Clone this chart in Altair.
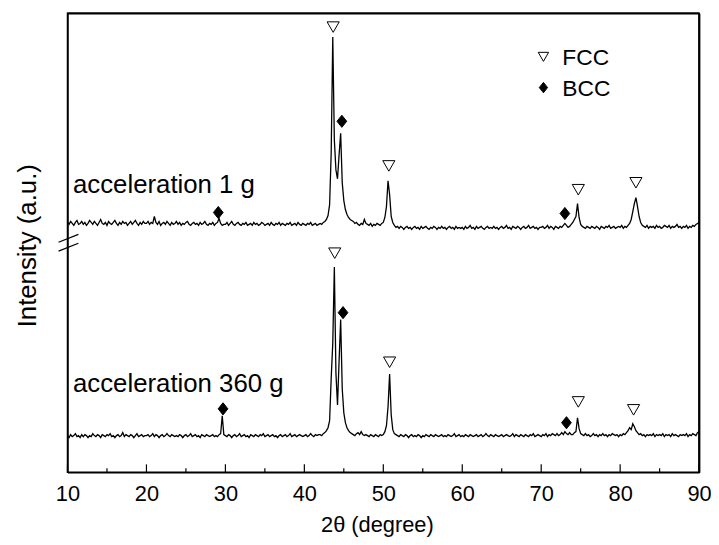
import altair as alt
import numpy as np
import pandas as pd

# ---------------- data ----------------
# 2-theta grid: 10.0 ... 90.0, step 0.2 degree
theta_start, theta_step, n_pts = 10.0, 0.2, 401

# sample "acceleration 1 g" (upper pattern), intensity in a.u.
u10 = [252,250,253,251,249,252,254,250,251,253, 250,252,249,251,254,252,250,253,251,249,
       252,255,251,250,252,249,253,251,250,252, 254,251,249,252,250,253,251,252,249,251,
       253,250,252,254,251,249,252,250,253,251]
u20 = [251,253,250,252,251,258,252,250,253,249, 251,252,250,253,251,249,252,250,251,253,
       250,252,249,251,250,252,253,250,249,251, 252,250,251,249,252,250,251,253,250,249,
       251,250,252,249,251,252,256,251,249,250]
u30 = [250,252,249,251,253,250,249,251,252,250, 249,251,250,252,249,250,251,249,252,250,
       251,249,250,252,251,249,250,251,249,252, 250,249,251,250,252,249,251,250,249,251,
       250,252,249,250,251,249,252,250,249,251]
u40 = [250,249,251,250,252,249,250,251,249,250, 251,250,252,253,255,259,270,322,439,335,
       305,296,320,342,292,274,265,260,257,255, 254,253,251,252,250,249,251,250,255,251,
       250,249,251,248,250,249,251,250,249,251]
u50 = [252,257,268,294,280,258,252,249,247,248, 246,248,247,245,247,248,246,247,245,247,
       248,246,247,245,248,246,247,248,246,245, 247,246,248,247,245,247,246,248,246,247,
       245,247,248,246,247,245,248,246,247,246]
u60 = [247,245,248,246,247,249,246,247,245,248, 246,247,248,246,245,247,248,246,247,246,
       248,246,247,245,247,248,246,247,249,246, 247,245,248,247,246,248,247,245,247,248,
       246,247,249,246,247,248,246,247,245,247]
u70 = [247,248,246,247,249,246,248,247,245,248, 247,246,248,247,249,251,249,247,248,250,
       252,255,258,271,257,250,248,247,246,248, 247,246,248,247,246,248,247,245,248,247,
       246,248,247,249,246,247,248,246,247,248]
u80 = [247,249,246,248,247,249,251,255,263,271, 277,268,258,252,249,248,247,249,246,248,
       247,248,246,249,247,248,246,247,249,248, 247,249,246,248,247,248,250,247,248,246,
       248,247,249,246,248,247,249,248,250,251]
u90 = [252]

# sample "acceleration 360 g" (lower pattern)
l10 = [37,35,38,36,37,39,36,37,35,38, 36,38,37,35,37,36,39,37,36,38,
       37,35,38,37,36,38,37,39,36,37, 35,37,38,36,37,40,36,38,37,36,
       38,37,35,37,39,36,37,38,36,37]
l20 = [37,38,36,37,39,36,38,37,35,37, 38,36,37,39,37,36,38,37,36,37,
       36,38,37,35,37,38,36,37,39,36, 37,38,36,37,35,38,37,36,38,37,
       36,37,38,36,37,36,38,39,57,38]
l30 = [37,36,38,37,35,37,38,36,37,39, 36,37,38,36,37,35,38,37,36,38,
       37,36,38,37,39,36,37,38,36,37, 38,36,37,35,37,38,36,37,38,36,
       37,39,36,37,38,36,37,38,37,36]
l40 = [37,38,36,37,39,37,36,38,37,38, 38,37,39,40,42,45,52,95,130,207,
       100,68,112,154,84,60,50,45,42,40, 39,38,37,39,40,38,41,38,37,38,
       37,36,38,37,36,38,37,36,38,37]
l50 = [38,41,47,66,99,58,43,39,38,37, 36,38,37,36,38,37,35,37,38,36,
       37,36,38,37,35,37,36,38,37,36, 38,37,36,38,37,36,37,38,36,37,
       36,38,37,36,37,39,36,37,38,36]
l60 = [37,36,38,37,36,38,37,36,37,38, 36,37,38,36,37,39,37,36,38,37,
       36,38,37,36,37,38,36,37,38,37, 36,37,39,36,38,37,36,38,37,36,
       38,37,36,38,37,39,36,37,38,37]
l70 = [36,38,37,39,36,38,37,39,38,37, 39,37,38,40,38,41,39,38,40,38,
       38,40,41,55,44,39,38,37,39,37, 38,36,37,39,37,38,36,38,37,39,
       37,38,36,38,37,39,38,37,38,36]
l80 = [38,37,39,38,40,42,45,43,49,46, 42,40,38,39,37,38,36,38,37,38,
       37,39,36,38,37,38,37,39,36,38, 37,38,36,39,37,38,37,36,38,37,
       38,37,39,36,38,37,39,38,37,40]
l90 = [41]

samples = ["acceleration 1 g", "acceleration 360 g"]

# phase markers
marker_phase = ["FCC", "FCC", "FCC", "FCC", "FCC", "FCC", "FCC", "FCC",
                "BCC", "BCC", "BCC", "BCC", "BCC", "BCC"]
marker_theta = [43.65, 50.7, 74.7, 82.0, 43.85, 50.8, 74.7, 81.7,
                44.75, 29.1, 73.0, 44.9, 29.7, 73.2]
marker_int = [449, 309, 285, 292, 221, 111, 71, 63,
              354, 262, 261, 161, 64, 50]

legend_phase = ["FCC", "BCC"]

label_theta = [10.7, 10.7]
label_int = [282, 81]

major_ticks = [10, 20, 30, 40, 50, 60, 70, 80, 90]
minor_ticks = [15, 25, 35, 45, 55, 65, 75, 85]

x_range = [10, 90]
y_range = [0, 463]

# ---------------- build ----------------
theta = np.round(theta_start + theta_step * np.arange(n_pts), 1)
upper = u10 + u20 + u30 + u40 + u50 + u60 + u70 + u80 + u90
lower = l10 + l20 + l30 + l40 + l50 + l60 + l70 + l80 + l90
lines = pd.DataFrame({
    "theta": np.concatenate([theta, theta]),
    "intensity": upper + lower,
    "sample": [samples[0]] * n_pts + [samples[1]] * n_pts,
})
markers = pd.DataFrame({"theta": marker_theta, "intensity": marker_int, "phase": marker_phase})
labels = pd.DataFrame({"theta": label_theta, "intensity": label_int, "text": samples})

W, H = 637, 463
FONT = "Liberation Sans"
DIAMOND = "M0,-1L0.8,0L0,1L-0.8,0Z"

xs = alt.Scale(domain=x_range, nice=False, zero=False)
ys = alt.Scale(domain=y_range, nice=False, zero=False)
shape_scale = alt.Scale(domain=["FCC", "BCC"], range=["triangle-down", DIAMOND])
fill_scale = alt.Scale(domain=["FCC", "BCC"], range=["white", "black"])

x_axis = alt.Axis(values=major_ticks, title="2θ (degree)", ticks=False, grid=False,
                  labelFont=FONT, labelFontSize=22, labelColor="black", labelPadding=11,
                  labelFlush=False, labelOverlap=False,
                  titleFont=FONT, titleFontSize=22, titleFontWeight="normal", titleColor="black",
                  titleBaseline="alphabetic", titleY=60, titleX=312,
                  domainColor="black", domainWidth=1.5)
y_axis = alt.Axis(labels=False, ticks=False, grid=False, title="Intensity (a.u.)",
                  titleFont=FONT, titleFontSize=26, titleFontWeight="normal", titleColor="black",
                  titleX=-40, titleY=234, titleAngle=-90, titleAlign="center", titleBaseline="middle",
                  domainColor="black", domainWidth=1.5)
# frame axes (top and right): domain line only
top_axis = alt.Axis(orient="top", labels=False, ticks=False, grid=False, title=None,
                    domainColor="black", domainWidth=1.6)
right_axis = alt.Axis(orient="right", labels=False, ticks=False, grid=False, title=None,
                      domainColor="black", domainWidth=1.6)

line = alt.Chart(lines).mark_line(color="black", strokeWidth=1.3).encode(
    x=alt.X("theta:Q", scale=xs, axis=x_axis),
    y=alt.Y("intensity:Q", scale=ys, axis=y_axis),
    detail="sample:N",
)

pts = alt.Chart(markers).mark_point(filled=True, stroke="black", strokeWidth=1, size=150, opacity=1).encode(
    x=alt.X("theta:Q", scale=xs, axis=None),
    y=alt.Y("intensity:Q", scale=ys, axis=None),
    shape=alt.Shape("phase:N", scale=shape_scale, legend=None),
    fill=alt.Fill("phase:N", scale=fill_scale, legend=None),
)

# legend drawn inside the plot (top right)
leg_layers = []
for i, ph in enumerate(legend_phase):
    d = pd.DataFrame({"phase": [ph]})
    yy = 44 + 31 * i
    leg_layers.append(alt.Chart(d).mark_point(filled=True, stroke="black", strokeWidth=1, size=110, opacity=1).encode(
        x=alt.value(480), y=alt.value(yy),
        shape=alt.Shape("phase:N", scale=shape_scale, legend=None),
        fill=alt.Fill("phase:N", scale=fill_scale, legend=None)))
    leg_layers.append(alt.Chart(d).mark_text(align="left", baseline="middle", font=FONT, fontSize=23, color="black").encode(
        x=alt.value(499), y=alt.value(yy + 1), text="phase:N"))

txt = alt.Chart(labels).mark_text(align="left", baseline="alphabetic", font=FONT, fontSize=26, color="black").encode(
    x=alt.X("theta:Q", scale=xs, axis=None),
    y=alt.Y("intensity:Q", scale=ys, axis=None),
    text="text:N",
)

one = pd.DataFrame({"k": [0]})
major = alt.Chart(pd.DataFrame({"theta": major_ticks})).mark_rule(color="black", strokeWidth=1.2).encode(
    x=alt.X("theta:Q", scale=xs, axis=None), y=alt.value(H), y2=alt.value(H - 8))
minor = alt.Chart(pd.DataFrame({"theta": minor_ticks})).mark_rule(color="black", strokeWidth=1.2).encode(
    x=alt.X("theta:Q", scale=xs, axis=None), y=alt.value(H), y2=alt.value(H - 4))

# top and right edges of the frame: drawn as rules and as domain lines of top/right axes
edges = pd.DataFrame({
    "x1": [x_range[0], x_range[1]], "x2": [x_range[1], x_range[1]],
    "y1": [y_range[1], y_range[0]], "y2": [y_range[1], y_range[1]],
})
frame = alt.Chart(edges).mark_rule(color="black", strokeWidth=1.6).encode(
    x=alt.X("x1:Q", scale=xs, axis=top_axis), x2="x2:Q",
    y=alt.Y("y1:Q", scale=ys, axis=right_axis), y2="y2:Q")

brk1 = alt.Chart(one).mark_rule(color="black", strokeWidth=1.3).encode(
    x=alt.value(-9), x2=alt.value(11), y=alt.value(231), y2=alt.value(223))
brk2 = alt.Chart(one).mark_rule(color="black", strokeWidth=1.3).encode(
    x=alt.value(-9), x2=alt.value(11), y=alt.value(240), y2=alt.value(232))

chart = alt.layer(line, major, minor, pts, txt, frame, brk1, brk2, *leg_layers).resolve_axis(
    x="independent", y="independent"
).properties(
    width=W, height=H,
    autosize=alt.AutoSizeParams(type="none"),
    padding={"left": 60, "top": 3, "right": 12, "bottom": 64},
    background="white",
).configure_view(stroke="black", strokeWidth=1.5)

chart.save("out.html", embed_options={"renderer": "svg", "actions": False})
